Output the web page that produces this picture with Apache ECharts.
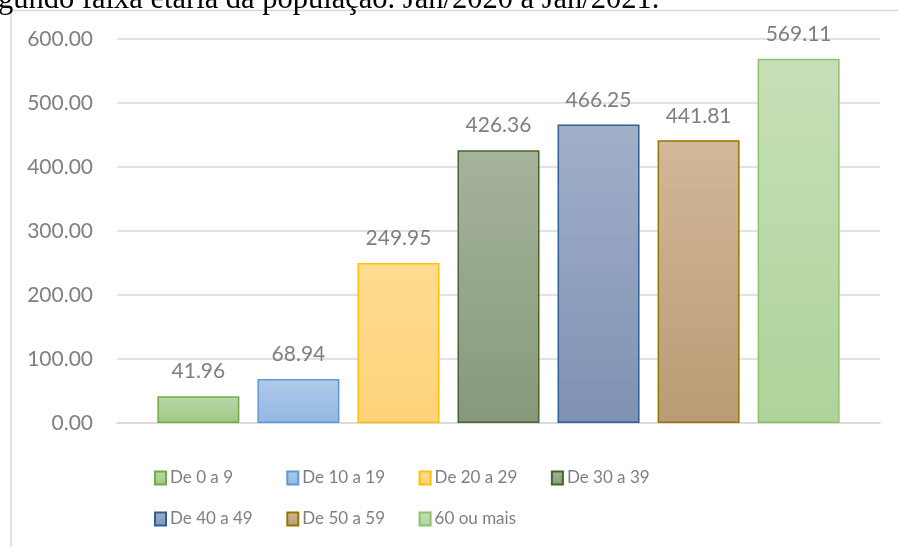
<!DOCTYPE html>
<html>
<head>
<meta charset="utf-8">
<script src="https://cdn.jsdelivr.net/npm/echarts@6/dist/echarts.min.js"></script>
<style>html,body{margin:0;padding:0;background:#fff}#c{width:898px;height:547px}</style>
</head>
<body>
<div id="c"></div>
<script>
// ---- data ----
const seriesNames = ['De 0 a 9', 'De 10 a 19', 'De 20 a 29', 'De 30 a 39', 'De 40 a 49', 'De 50 a 59', '60 ou mais'];
const seriesValues = [41.96, 68.94, 249.95, 426.36, 466.25, 441.81, 569.11];
const categories = [''];
const yTicks = [0, 100, 200, 300, 400, 500, 600];
const titleText = 'gundo faixa etária da população. Jan/2020 a Jan/2021.';

// ---- styles ----
const fillTop =    ['#b8d7a9', '#b0cbea', '#ffdb91', '#a5b39b', '#a1afc9', '#d2b799', '#c6dfb7'];
const fillBottom = ['#9dc985', '#93b6e3', '#ffd37a', '#87997a', '#7f91b4', '#b99c74', '#aed49a'];
const borders =    ['#70ad47', '#5b9bd5', '#ffc000', '#43682b', '#2f5f97', '#997300', '#8cc26a'];
const gray = '#7f7f7f';
const font = 'Lato';
const fs = 21;

const chart = echarts.init(document.getElementById('c'), null, {renderer: 'canvas'});

const series = seriesNames.map((name, i) => ({
  name: name,
  type: 'bar',
  data: [seriesValues[i]],
  barWidth: 82,
  barGap: '22%',
  itemStyle: {
    color: new echarts.graphic.LinearGradient(0, 0, 0, 1, [
      {offset: 0, color: fillTop[i]},
      {offset: 1, color: fillBottom[i]}
    ]),
    borderColor: borders[i],
    borderWidth: 1.5
  },
  label: {
    show: true,
    position: 'top',
    distance: 14,
    color: gray,
    fontFamily: font,
    fontSize: fs,
    formatter: p => p.value.toFixed(2)
  }
}));

// legend layout: 4 columns, 2 rows
const legends = seriesNames.map((name, i) => ({
  data: [name],
  left: 154 + (i % 4) * 132.3,
  top: 466 + Math.floor(i / 4) * 41,
  itemWidth: 11,
  itemHeight: 13,
  itemGap: 0,
  icon: 'rect',
  padding: 0,
  selectedMode: false,
  textStyle: {color: gray, fontFamily: font, fontSize: 17, lineHeight: 24, padding: [0, 0, 0, -1]}
}));

chart.setOption({
  animation: false,
  backgroundColor: '#fff',
  grid: {left: 117, right: 18, top: 39, bottom: 124},
  xAxis: {
    type: 'category',
    data: categories,
    axisLine: {lineStyle: {color: '#d9d9d9', width: 1.5}},
    axisTick: {show: false},
    axisLabel: {show: false}
  },
  yAxis: {
    type: 'value',
    min: yTicks[0],
    max: yTicks[yTicks.length - 1],
    interval: yTicks[1] - yTicks[0],
    axisLine: {show: false},
    axisTick: {show: false},
    splitLine: {lineStyle: {color: '#d9d9d9', width: 1.5}},
    axisLabel: {
      color: gray, fontFamily: font, fontSize: fs, margin: 24,
      formatter: v => v.toFixed(2)
    }
  },
  legend: legends,
  graphic: [
    {
      type: 'rect',
      silent: true,
      shape: {x: 11, y: 10.5, width: 1000, height: 1000},
      style: {fill: 'none', stroke: '#d9d9d9', lineWidth: 1.5},
      z: -1
    },
    {
      type: 'text',
      silent: true,
      x: -2,
      y: 15,
      style: {
        text: titleText,
        fill: '#000',
        font: '30.5px "Liberation Serif", "Times New Roman", serif',
        verticalAlign: 'bottom'
      }
    }
  ],
  series: series
});
</script>
</body>
</html>
